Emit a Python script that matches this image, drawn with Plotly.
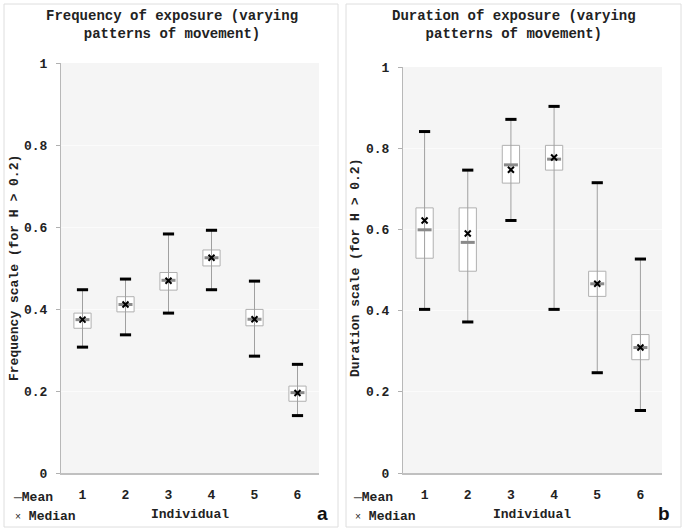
import plotly.graph_objects as go

W, H = 685, 531

individuals = [1, 2, 3, 4, 5, 6]
tick_labels = ["1", "2", "3", "4", "5", "6"]

# Panel a: frequency of exposure
freq_low = [0.307, 0.337, 0.390, 0.447, 0.285, 0.140]
freq_q1 = [0.353, 0.393, 0.446, 0.505, 0.359, 0.175]
freq_median = [0.374, 0.411, 0.469, 0.525, 0.375, 0.195]
freq_mean = [0.374, 0.411, 0.470, 0.525, 0.375, 0.196]
freq_q3 = [0.390, 0.430, 0.489, 0.544, 0.399, 0.212]
freq_high = [0.447, 0.473, 0.583, 0.592, 0.468, 0.265]

# Panel b: duration of exposure
dur_low = [0.403, 0.372, 0.622, 0.403, 0.247, 0.154]
dur_q1 = [0.529, 0.497, 0.714, 0.746, 0.435, 0.279]
dur_median = [0.622, 0.590, 0.747, 0.777, 0.466, 0.309]
dur_mean = [0.599, 0.568, 0.759, 0.773, 0.466, 0.309]
dur_q3 = [0.653, 0.653, 0.807, 0.807, 0.497, 0.341]
dur_high = [0.841, 0.746, 0.871, 0.903, 0.715, 0.527]

MONO = "Liberation Mono, Courier New, monospace"


def px_x(x):
    return x / W


def px_y(y):
    return 1 - y / H


fig = go.Figure()


def add_panel(xa, ya, low, q1, med, mean, q3, high):
    wx, wy = [], []
    for c, lo, hi in zip(individuals, low, high):
        wx += [c, c, None]
        wy += [lo, hi, None]
    fig.add_trace(go.Scatter(x=wx, y=wy, mode="lines", xaxis=xa, yaxis=ya,
                             line=dict(color="#a0a0a0", width=1),
                             hoverinfo="skip", showlegend=False))
    fig.add_trace(go.Bar(x=individuals, y=[b - a for a, b in zip(q1, q3)], base=q1,
                         width=0.4, xaxis=xa, yaxis=ya,
                         marker=dict(color="white", line=dict(color="#b0b0b0", width=1)),
                         showlegend=False))
    fig.add_trace(go.Scatter(x=individuals + individuals, y=low + high, mode="markers",
                             xaxis=xa, yaxis=ya,
                             marker=dict(symbol="line-ew", size=8,
                                         line=dict(color="black", width=3)),
                             showlegend=False))
    fig.add_trace(go.Scatter(x=individuals, y=mean, mode="markers", xaxis=xa, yaxis=ya,
                             marker=dict(symbol="line-ew", size=10,
                                         line=dict(color="#8a8a8a", width=3)),
                             showlegend=False))
    fig.add_trace(go.Scatter(x=individuals, y=med, mode="markers", xaxis=xa, yaxis=ya,
                             marker=dict(symbol="x-thin", size=6,
                                         line=dict(color="black", width=2)),
                             showlegend=False))


add_panel("x", "y", freq_low, freq_q1, freq_median, freq_mean, freq_q3, freq_high)
add_panel("x2", "y2", dur_low, dur_q1, dur_median, dur_mean, dur_q3, dur_high)

tickfont = dict(family=MONO, size=13, color="#222", weight="bold")
xcommon = dict(range=[0.5, 6.5], tickvals=individuals, ticktext=tick_labels,
               ticks="", showgrid=False, zeroline=False, showline=True,
               linecolor="#c0c0c0", linewidth=2, ticklabelstandoff=8, automargin=False,
               tickfont=tickfont, fixedrange=True)
ycommon = dict(range=[0, 1], tickvals=[0, 0.2, 0.4, 0.6, 0.8, 1],
               ticks="outside", ticklen=4, tickcolor="#b0b0b0", showgrid=True,
               gridcolor="#fbfbfb", zeroline=False, showline=True, automargin=False,
               linecolor="#b8b8b8", linewidth=1, ticklabelstandoff=6,
               tickfont=tickfont, fixedrange=True)

fig.update_layout(
    width=W, height=H, autosize=False,
    margin=dict(l=0, r=0, t=0, b=0, pad=0, autoexpand=False),
    paper_bgcolor="white", plot_bgcolor="#f5f5f5", barmode="overlay",
    xaxis=dict(domain=[px_x(61), px_x(319)], anchor="y", **xcommon),
    yaxis=dict(domain=[px_y(473), px_y(63)], anchor="x", **ycommon),
    xaxis2=dict(domain=[px_x(403), px_x(662)], anchor="y2", **xcommon),
    yaxis2=dict(domain=[px_y(473), px_y(67)], anchor="x2", **ycommon),
    showlegend=False,
)

shapes = [
    dict(type="rect", xref="paper", yref="paper", x0=px_x(4), x1=px_x(338),
         y0=px_y(527), y1=px_y(4), line=dict(color="#dedede", width=1)),
    dict(type="rect", xref="paper", yref="paper", x0=px_x(346), x1=px_x(681),
         y0=px_y(527), y1=px_y(4), line=dict(color="#dedede", width=1)),
]
fig.update_layout(shapes=shapes)

ann = []


def text(x, y, s, size=13, angle=0, xanchor="center", family=MONO, color="#222"):
    ann.append(dict(x=px_x(x), y=px_y(y), xref="paper", yref="paper", text=s,
                    showarrow=False, textangle=angle, xanchor=xanchor, yanchor="middle",
                    font=dict(family=family, size=size, color=color)))


text(172, 25, "<b>Frequency of exposure (varying<br>patterns of movement)</b>", size=14)
text(514, 25, "<b>Duration of exposure (varying<br>patterns of movement)</b>", size=14)
text(14, 268, "<b>Frequency scale (for H &gt; 0.2)</b>", size=13, angle=-90)
text(355, 268, "<b>Duration scale (for H &gt; 0.2)</b>", size=13, angle=-90)
text(190, 514, "<b>Individual</b>", size=13)
text(532, 514, "<b>Individual</b>", size=13)
text(11, 497, "<b><span style='color:#666'>\u2014</span>Mean</b>", size=13, xanchor="left")
text(13, 516, "<span style='font-size:10px'>\u00d7</span> <b>Median</b>", size=13, xanchor="left")
text(351, 497, "<b><span style='color:#666'>\u2014</span>Mean</b>", size=13, xanchor="left")
text(353, 516, "<span style='font-size:10px'>\u00d7</span> <b>Median</b>", size=13, xanchor="left")
text(322, 513, "<b>a</b>", size=19, family="Liberation Sans, Arial, sans-serif", color="#111")
text(664, 513, "<b>b</b>", size=19, family="Liberation Sans, Arial, sans-serif", color="#111")
fig.update_layout(annotations=ann)

fig.write_html("out.html", config={"displayModeBar": False, "responsive": False},
               post_script="document.body.style.margin='0';document.body.style.overflow='hidden';")
